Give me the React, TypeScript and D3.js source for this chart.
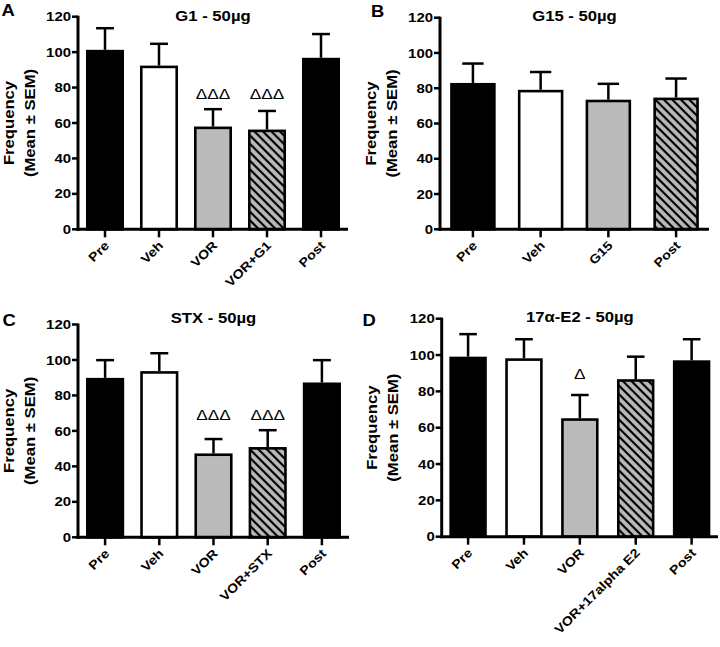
import React from "react";
import * as d3 from "d3";

// ---------- data ----------
const yTicks = [0, 20, 40, 60, 80, 100, 120];

const catsA = ["Pre", "Veh", "VOR", "VOR+G1", "Post"];
const meanA = [101.3, 92.4, 58.0, 56.3, 96.8];
const semA = [12.2, 12.3, 9.8, 10.5, 13.4];
const sigA = ["", "", "ΔΔΔ", "ΔΔΔ", ""];
const sigYA = 73.5;

const catsB = ["Pre", "Veh", "G15", "Post"];
const meanB = [83.0, 79.1, 73.5, 74.7];
const semB = [11.0, 10.1, 9.0, 10.8];
const sigB = ["", "", "", ""];
const sigYB = 0;

const catsC = ["Pre", "Veh", "VOR", "VOR+STX", "Post"];
const meanC = [89.9, 93.7, 47.3, 50.9, 87.3];
const semC = [10.0, 10.1, 8.1, 9.5, 12.6];
const sigC = ["", "", "ΔΔΔ", "ΔΔΔ", ""];
const sigYC = 66;

const catsD = ["Pre", "Veh", "VOR", "VOR+17alpha E2", "Post"];
const meanD = [99.1, 98.2, 65.2, 86.7, 97.1];
const semD = [12.4, 10.5, 12.8, 12.4, 11.6];
const sigD = ["", "", "Δ", "", ""];
const sigYD = 87;

// ---------- styles ----------
const fillsA = ["black", "white", "gray", "hatch", "black"];
const fillsB = ["black", "white", "gray", "hatch"];
const fillsC = ["black", "white", "gray", "hatch", "black"];
const fillsD = ["black", "white", "gray", "hatch", "black"];

const FONT = "'Liberation Sans', Arial, Helvetica, sans-serif";
const STRETCH = 1.15;
const GRAY = "#bbbbbb";

type Layout = {
  letter: string;
  title: string;
  axisX: number;
  xEnd: number;
  yTop: number;
  yZero: number;
  titleY: number;
  letterX: number;
  letterY: number;
  pIn: number;
  pOut: number;
};

const panels = [
  {
    cats: catsA, mean: meanA, sem: semA, sig: sigA, sigY: sigYA, fills: fillsA,
    L: { letter: "A", title: "G1 - 50µg", axisX: 78, xEnd: 348, yTop: 16.7, yZero: 229.3, titleY: 20.5, letterX: 1.5, letterY: 16, pIn: 0.296, pOut: 0.148 },
  },
  {
    cats: catsB, mean: meanB, sem: semB, sig: sigB, sigY: sigYB, fills: fillsB,
    L: { letter: "B", title: "G15 - 50µg", axisX: 440, xEnd: 709, yTop: 17.7, yZero: 229.3, titleY: 20.5, letterX: 371, letterY: 16.5, pIn: 0.328, pOut: 0.15 },
  },
  {
    cats: catsC, mean: meanC, sem: semC, sig: sigC, sigY: sigYC, fills: fillsC,
    L: { letter: "C", title: "STX -  50µg", axisX: 78, xEnd: 349, yTop: 324.5, yZero: 537.3, titleY: 323, letterX: 2.5, letterY: 325.5, pIn: 0.296, pOut: 0.148 },
  },
  {
    cats: catsD, mean: meanD, sem: semD, sig: sigD, sigY: sigYD, fills: fillsD,
    L: { letter: "D", title: "17α-E2 - 50µg", axisX: 441.7, xEnd: 718, yTop: 318.7, yZero: 536.7, titleY: 322, letterX: 362.5, letterY: 325.5, pIn: 0.33, pOut: 0.137 },
  },
];

function T(props: {
  x: number; y: number; rot?: number; size: number; anchor?: string;
  weight?: string; children: React.ReactNode;
}) {
  const { x, y, rot = 0, size, anchor = "start", weight = "bold", children } = props;
  return (
    <text
      transform={`translate(${x},${y}) rotate(${rot}) scale(${STRETCH},1)`}
      fontSize={size}
      fontFamily={FONT}
      fontWeight={weight}
      textAnchor={anchor}
      fill="#000"
    >
      {children}
    </text>
  );
}

function Panel({ p }: { p: (typeof panels)[number] }) {
  const L: Layout = p.L;
  const x = d3.scaleBand<string>().domain(p.cats).range([L.axisX, L.xEnd]).paddingInner(L.pIn).paddingOuter(L.pOut);
  const y = d3.scaleLinear().domain([0, 120]).range([L.yZero, L.yTop]);
  const bw = x.bandwidth();
  const sw = 2.6;
  const capW = bw * 0.47;
  const midY = (L.yTop + L.yZero) / 2;
  const fillOf = (f: string) => (f === "black" ? "#000" : f === "white" ? "#fff" : f === "gray" ? GRAY : "url(#hatch)");

  return (
    <g>
      <T x={L.letterX} y={L.letterY} size={16}>{L.letter}</T>
      <T x={(L.axisX + L.xEnd) / 2} y={L.titleY} size={14.5} anchor="middle">{L.title}</T>

      {/* y-axis title */}
      <T x={L.axisX - 64.5} y={midY} rot={-90} size={14.5} anchor="middle">Frequency</T>
      <T x={L.axisX - 43.5} y={midY} rot={-90} size={14.5} anchor="middle">(Mean ± SEM)</T>

      {/* error bars */}
      {p.cats.map((c, i) => {
        const cx = (x(c) as number) + bw / 2;
        const yt = y(p.mean[i] + p.sem[i]);
        return (
          <g key={"e" + c} stroke="#000" strokeWidth={2.5}>
            <line x1={cx} x2={cx} y1={y(p.mean[i])} y2={yt} />
            <line x1={cx - capW / 2} x2={cx + capW / 2} y1={yt} y2={yt} />
          </g>
        );
      })}

      {/* bars */}
      {p.cats.map((c, i) => {
        const x0 = x(c) as number;
        const yt = y(p.mean[i]) + sw / 2;
        return (
          <rect
            key={"b" + c}
            x={x0 + sw / 2}
            y={yt}
            width={bw - sw}
            height={L.yZero - yt}
            fill={fillOf(p.fills[i])}
            stroke="#000"
            strokeWidth={sw}
          />
        );
      })}

      {/* significance */}
      {p.cats.map((c, i) =>
        p.sig[i] ? (
          <T key={"s" + c} x={(x(c) as number) + bw / 2} y={y(p.sigY)} size={15} anchor="middle" weight="normal">
            {p.sig[i]}
          </T>
        ) : null
      )}

      {/* axes */}
      <line x1={L.axisX} x2={L.axisX} y1={L.yTop - 1} y2={L.yZero + 1.5} stroke="#000" strokeWidth={3} />
      <line x1={L.axisX - 1.5} x2={L.xEnd} y1={L.yZero} y2={L.yZero} stroke="#000" strokeWidth={3} />
      {yTicks.map((t) => (
        <g key={"yt" + t}>
          <line x1={L.axisX - 6} x2={L.axisX} y1={y(t)} y2={y(t)} stroke="#000" strokeWidth={2.5} />
          <T x={L.axisX - 7} y={y(t) + 4.6} size={13} anchor="end">{t}</T>
        </g>
      ))}
      {p.cats.map((c) => {
        const cx = (x(c) as number) + bw / 2;
        return (
          <g key={"xt" + c}>
            <line x1={cx} x2={cx} y1={L.yZero} y2={L.yZero + 8} stroke="#000" strokeWidth={2.5} />
            <T x={cx + 5} y={L.yZero + 17} rot={-45} size={12.5} anchor="end">{c}</T>
          </g>
        );
      })}
    </g>
  );
}

export default function App() {
  return (
    <svg
      width={720}
      height={647}
      viewBox="0 0 720 647"
      style={{ position: "absolute", left: 0, top: 0, background: "#fff" }}
    >
      <defs>
        <pattern id="hatch" patternUnits="userSpaceOnUse" width={6} height={6} patternTransform="rotate(-45)">
          <rect width={6} height={6} fill={GRAY} />
          <line x1={3} y1={0} x2={3} y2={6} stroke="#000" strokeWidth={2.2} />
        </pattern>
      </defs>
      <rect width={720} height={647} fill="#fff" />
      {panels.map((p) => (
        <Panel key={p.L.letter} p={p} />
      ))}
    </svg>
  );
}
